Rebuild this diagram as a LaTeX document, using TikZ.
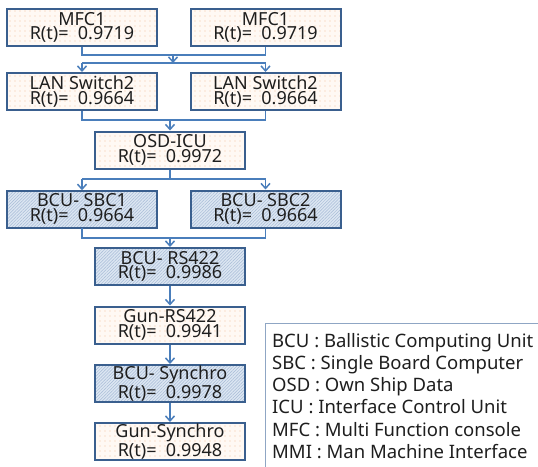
\documentclass[tikz,border=0pt]{standalone}
\usepackage{fontspec}
\setmainfont{Noto Sans}
\usetikzlibrary{arrows.meta,patterns.meta}
\definecolor{boxline}{HTML}{3A5F8E}
\definecolor{arrowc}{HTML}{4A7EBB}
\definecolor{peach}{HTML}{FFF9F4}
\definecolor{dotc}{HTML}{F3C2A0}
\definecolor{lblue}{HTML}{DCE6F2}
\definecolor{hatchc}{HTML}{A7BBD6}
\definecolor{legline}{HTML}{8FA6C4}
\definecolor{txt}{HTML}{1E1E1E}
\begin{document}
\begin{tikzpicture}[x=1pt,y=-1pt,
  blk/.style={draw=boxline, line width=2pt, minimum width=150pt, minimum height=37pt,
    inner sep=0pt, align=center, text=txt, font=\fontsize{18}{14.5}\selectfont},
  dotbox/.style={blk, preaction={fill=peach},
    pattern={Dots[radius=0.55pt,distance=5pt]}, pattern color=dotc},
  hatchbox/.style={blk, preaction={fill=lblue},
    pattern={Lines[angle=45,distance=2.2pt,line width=0.5pt]}, pattern color=hatchc},
  conn/.style={draw=arrowc, line width=1.8pt},
  arr/.style={conn, -{Straight Barb[length=5pt,width=9pt,line width=1.5pt]}},
  legtxt/.style={anchor=base west, inner sep=0pt, text=txt, font=\fontsize{18.5}{19}\selectfont},
]
\useasboundingbox (0,0) rectangle (538,466);

% boxes
\node[dotbox] (mfcA) at (82,27.5) {MFC1\\R(t)=\ \ 0.9719};
\node[dotbox] (mfcB) at (265.5,27.5) {MFC1\\R(t)=\ \ 0.9719};
\node[dotbox] (lanA) at (82,91.5) {LAN Switch2\\R(t)=\ \ 0.9664};
\node[dotbox] (lanB) at (265.5,91.5) {LAN Switch2\\R(t)=\ \ 0.9664};
\node[dotbox] (osd) at (170,150) {OSD-ICU\\R(t)=\ \ 0.9972};
\node[hatchbox] (sbcA) at (82,209) {BCU- SBC1\\R(t)=\ \ 0.9664};
\node[hatchbox] (sbcB) at (265.5,209) {BCU- SBC2\\R(t)=\ \ 0.9664};
\node[hatchbox] (brs) at (170,266.5) {BCU- RS422\\R(t)=\ \ 0.9986};
\node[dotbox] (grs) at (170,325) {Gun-RS422\\R(t)=\ \ 0.9941};
\node[hatchbox] (bsy) at (170,383.5) {BCU- Synchro\\R(t)=\ \ 0.9978};
\node[dotbox] (gsy) at (170,441.5) {Gun-Synchro\\R(t)=\ \ 0.9948};

% junction coordinates
\coordinate (j1) at (173,55);
\coordinate (j2) at (173,63);
\coordinate (j3) at (170,120);
\coordinate (j4) at (170,179);
\coordinate (j5) at (170,238);

% MFC -> LAN
\draw[conn] (mfcA.south) -- (mfcA.south |- j1) -- (mfcB.south |- j1) -- (mfcB.south);
\draw[arr] (j1) -- (j2);
\draw[conn] (mfcA.south |- j2) -- (mfcB.south |- j2);
\draw[arr] (mfcA.south |- j2) -- (lanA.north);
\draw[arr] (mfcB.south |- j2) -- (lanB.north);

% LAN -> OSD
\draw[conn] (lanA.south) -- (lanA.south |- j3) -- (lanB.south |- j3) -- (lanB.south);
\draw[arr] (j3) -- (osd.north);

% OSD -> SBC
\draw[conn] (osd.south) -- (j4);
\draw[conn] (sbcA.north |- j4) -- (sbcB.north |- j4);
\draw[arr] (sbcA.north |- j4) -- (sbcA.north);
\draw[arr] (sbcB.north |- j4) -- (sbcB.north);

% SBC -> RS422
\draw[conn] (sbcA.south) -- (sbcA.south |- j5) -- (sbcB.south |- j5) -- (sbcB.south);
\draw[arr] (j5) -- (brs.north);

% chain
\draw[arr] (brs.south) -- (grs.north);
\draw[arr] (grs.south) -- (bsy.north);
\draw[arr] (bsy.south) -- (gsy.north);

% legend
\draw[legline, line width=0.8pt] (540,323) -- (265,323) -- (265,470);
\node[legtxt] (l1) at (272,347) {BCU : Ballistic Computing Unit};
\node[legtxt] (l2) at (272,369.3) {SBC : Single Board Computer};
\node[legtxt] (l3) at (272,391.6) {OSD : Own Ship Data};
\node[legtxt] (l4) at (272,413.9) {ICU : Interface Control Unit};
\node[legtxt] (l5) at (272,436.2) {MFC : Multi Function console};
\node[legtxt] (l6) at (272,458.5) {MMI : Man Machine Interface};
\end{tikzpicture}
\end{document}
